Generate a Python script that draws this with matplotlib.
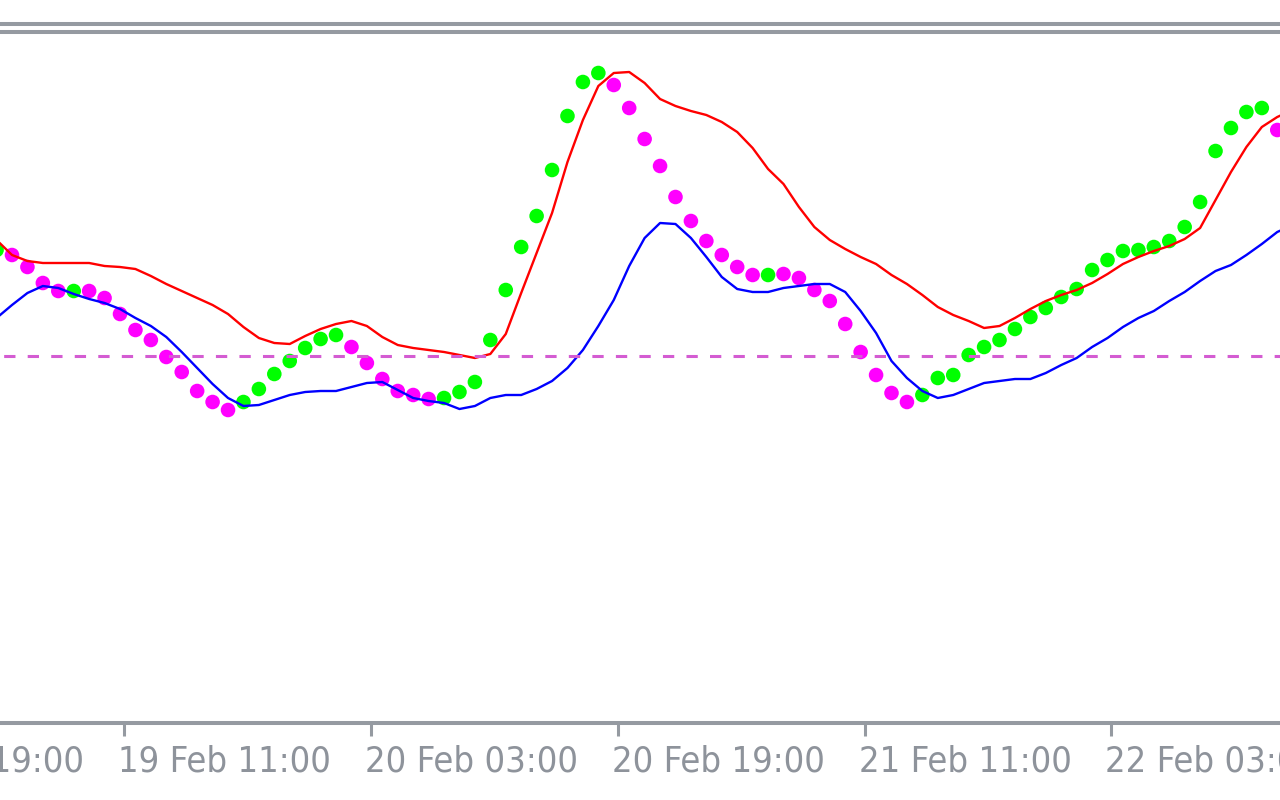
import numpy as np
import pandas as pd
import matplotlib
matplotlib.use('Agg')
import matplotlib.pyplot as plt
from matplotlib.lines import Line2D

# hourly bars, bar 0 = 19 Feb 04:00 (year not shown on the chart)
bar_start = pd.Timestamp('2024-02-19 04:00')

# dots: bar -1 .. 82, value and colour (G = rising, M = falling)
dot_bars = list(range(-1, 83))
dot_vals = [106, 101, 89, 73, 65, 65, 65, 58, 42, 26, 16, -1, -16, -35, -46, -54,
            -46, -33, -18, -5, 8, 17, 21, 9, -7, -23, -35, -39, -43, -42, -36, -26,
            16, 66, 109, 140, 186, 240, 274, 283, 271, 248, 217, 190, 159, 135, 115, 101,
            89, 81, 81, 82, 78, 66, 55, 32, 4, -19, -37, -46, -39, -22, -19, 1,
            9, 16, 27, 39, 48, 59, 67, 86, 96, 105, 106, 109, 115, 129, 154, 205,
            228, 244, 248, 226]
dot_side = list('G' + 'MMMM' + 'G' + 'MMMMMMMMMM' + 'GGGGGGG' + 'MMMMMM'
                + 'GGGGGGGGGGG' + 'MMMMMMMMMM' + 'G' + 'MMMMMMMMM'
                + 'GGGGGGGGGGGGGGGGGGGGGGG' + 'M')

# lines: bar -1 .. 83
line_bars = list(range(-1, 84))
red_vals = [116, 101, 95, 93, 93, 93, 93, 90, 89, 87, 80, 72, 65, 58, 51, 42,
            29, 18, 13, 12, 20, 27, 32, 35, 30, 19, 11, 8, 6, 4, 1, -2,
            2, 22, 63, 103, 143, 194, 236, 270, 283, 284, 273, 257, 250, 245, 241, 234,
            224, 208, 187, 172, 149, 129, 116, 107, 99, 92, 81, 72, 61, 49, 41, 35,
            28, 30, 38, 47, 55, 61, 66, 73, 82, 92, 99, 105, 110, 117, 128, 156,
            184, 209, 229, 239, 246]
blue_vals = [38, 51, 63, 70, 68, 62, 57, 53, 47, 38, 30, 19, 4, -12, -28, -42,
             -50, -49, -44, -39, -36, -35, -35, -31, -27, -26, -34, -42, -45, -47, -53, -50,
             -42, -39, -39, -33, -25, -12, 6, 30, 56, 90, 118, 133, 132, 118, 99, 79,
             67, 64, 64, 68, 70, 72, 72, 64, 45, 23, -5, -22, -35, -42, -39, -33,
             -27, -25, -23, -23, -17, -9, -2, 9, 18, 29, 38, 45, 55, 64, 75, 85,
             91, 101, 112, 124, 131]
level = 0

# labelled bars (every 16 hours)
tick_bars = [-9, 7, 23, 39, 55, 71]
tick_shift = 0.25

gray = '#959aa1'
text_gray = '#8e939b'

W, H = 1280, 800
fig = plt.figure(figsize=(W / 100, H / 100), dpi=100)
fig.patch.set_facecolor('white')
ax = fig.add_axes([0, (H - 723) / H, 1, (723 - 34) / H])
ax.set_facecolor('white')

dot_colors = ['#00ff00' if s == 'G' else '#ff00ff' for s in dot_side]
ax.scatter(dot_bars, dot_vals, s=110, c=dot_colors, linewidths=0, zorder=2)
ax.plot(line_bars, red_vals, color='#ff0000', lw=1.7, zorder=3)
ax.plot(line_bars, blue_vals, color='#0000ff', lw=1.7, zorder=3)
ax.axhline(level, color='#d45cd2', lw=2.2, linestyle=(6.5, (3.7, 4.0)), zorder=4)

for s in ['top', 'left', 'right']:
    ax.spines[s].set_visible(False)
ax.spines['bottom'].set_color(gray)
ax.spines['bottom'].set_linewidth(2.9)
ax.set_yticks([])
ax.set_xticks([b + tick_shift for b in tick_bars])
ax.tick_params(axis='x', direction='out', length=9.4, width=2.2, color=gray,
               labelbottom=False)

px = 15.43
ax.set_xlim(-12 / px, (W - 12) / px)
ax.set_ylim(-367, 322)

for b in tick_bars:
    t = bar_start + pd.Timedelta(hours=b)
    lab = t.strftime('%d %b %H:%M')
    ax.annotate(lab, xy=(b + tick_shift, 0), xycoords=('data', 'axes fraction'),
                xytext=(-6, -48), textcoords='offset pixels', ha='left', va='baseline',
                fontsize=26, fontstretch='condensed', color=text_gray,
                family='DejaVu Sans', annotation_clip=False)

# double separator at the top of the window
for y in (24, 32):
    fig.add_artist(Line2D([0, 1], [1 - y / H, 1 - y / H], transform=fig.transFigure,
                          color=gray, lw=2.9))

fig.savefig('out.png', dpi=100)
